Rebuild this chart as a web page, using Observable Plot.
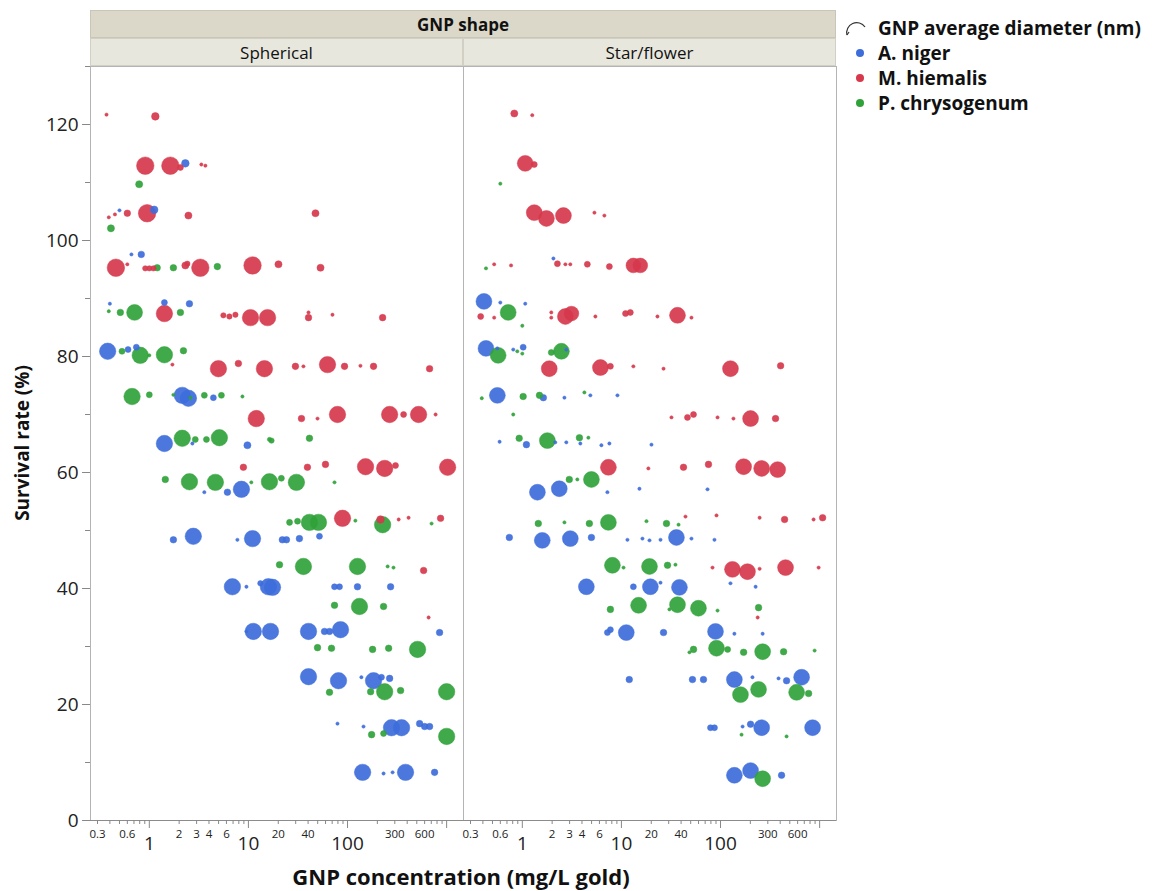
<!DOCTYPE html>
<html>
<head>
<meta charset="utf-8">
<script src="https://cdn.jsdelivr.net/npm/d3@7"></script>
<script src="https://cdn.jsdelivr.net/npm/@observablehq/plot@0.6"></script>
<style>
  html, body { margin: 0; padding: 0; background: #fff; }
  body { width: 1157px; height: 891px; position: relative; overflow: hidden; font-family: "Open Sans", "Noto Sans", sans-serif; color: #111; }
  #chart { position: absolute; left: 0; top: 0; }
  .band { position: absolute; box-sizing: border-box; display: flex; align-items: center; justify-content: center; }
  .b1 { background: #dbd8ca; border: 1px solid #c9c6b8; font-weight: bold; font-size: 17px; }
  .b2 { background: #e8e7dd; border: 1px solid #d2d0c4; font-size: 17px; }
  .ytitle { position: absolute; left: 22px; top: 443px; transform: translate(-50%, -50%) rotate(-90deg); font-size: 19px; font-weight: bold; white-space: nowrap; }
  .xtitle { position: absolute; left: 461px; top: 876px; transform: translate(-50%, -50%); font-size: 22px; font-weight: bold; white-space: nowrap; }
  .legend { position: absolute; left: 843px; top: 16px; font-size: 19px; font-weight: bold; }
  .legend .row { display: flex; align-items: center; height: 24.8px; }
  .legend .dot { width: 8px; height: 8px; border-radius: 50%; margin: 0 14px 0 13px; }
</style>
</head>
<body>
<div id="chart"></div>
<div class="band b1" style="left:90px;top:10px;width:746px;height:28px;">GNP shape</div>
<div class="band b2" style="left:90px;top:38px;width:373px;height:28px;">Spherical</div>
<div class="band b2" style="left:463px;top:38px;width:373px;height:28px;">Star/flower</div>
<div class="ytitle">Survival rate (%)</div>
<div class="xtitle">GNP concentration (mg/L gold)</div>
<div class="legend" id="legend"></div>
<script>
// ---- categories ----
const shapes = ["Spherical", "Star/flower"];
const species = ["A. niger", "M. hiemalis", "P. chrysogenum"];
const speciesColors = ["#3d6ddb", "#d6384c", "#30a23a"];
const sizeTitle = "GNP average diameter (nm)";

// ---- tick values ----
const yTicksLabeled = [0, 20, 40, 60, 80, 100, 120];
const yTicksMinor = [10, 30, 50, 70, 90, 110, 130];
const xTicksMinor = [0.3,0.4,0.5,0.6,0.7,0.8,0.9,2,3,4,5,6,7,8,9,20,30,40,50,60,70,80,90,200,300,400,500,600,700,800,900];
const xTicksDecade = [1, 10, 100, 1000];
const xLabelsSmall = [0.3, 0.6, 2, 3, 4, 6, 20, 40, 300, 600];
const xLabelsBig = [1, 10, 100];

// ---- data: [GNP concentration (mg/L), survival rate (%), GNP diameter (nm)] ----
const sphericalMhiemalis = [
  [0.37,121.7,3],[1.15,121.4,16],[0.91,112.9,85],[1.63,112.9,85],[2.06,112.6,10],[3.35,113.1,3],[3.68,112.9,3],
  [0.39,104.0,3],[0.45,104.5,3],[0.60,104.7,12],[0.95,104.7,85],[2.48,104.3,14],[47.5,104.7,14],
  [0.46,95.3,85],[0.60,95.9,3],[0.91,95.2,8],[1.0,95.2,8],[1.10,95.2,8],[2.31,95.7,14],[2.42,96.0,8],[3.27,95.3,85],[11.0,95.7,85],[20.1,95.9,14],[53.4,95.3,14],
  [1.42,87.4,75],[1.71,78.6,3],[5.59,87.1,8],[6.43,86.9,8],[7.39,87.2,8],[10.5,86.7,75],[15.6,86.7,75],[40.4,86.7,12],[40.4,87.6,3],[70.5,87.2,3],[226,86.7,12],
  [4.98,77.9,75],[7.92,78.8,12],[14.5,77.9,75],[29.8,78.3,12],[35.9,78.3,3],[62.8,78.6,75],[93.3,78.3,12],[135,78.4,3],[183,78.3,12],[673,77.9,12],
  [12.0,69.3,75],[34.3,69.3,12],[49.8,69.3,3],[79.2,70.0,75],[266,70.0,75],[368,70.0,10],[521,70.0,75],[774,70.0,3],
  [8.90,60.9,12],[39.4,60.9,12],[59.9,61.4,12],[152,61.0,75],[237,60.7,75],[305,61.2,10],[1023,60.9,75],
  [89.0,52.1,75],[215,51.9,16],[328,51.9,3],[413,52.2,3],[869,52.1,12],
  [586,43.1,12],[658,35.0,3]
];
const sphericalAniger = [
  [2.31,113.3,16],[0.50,105.2,3],[1.12,105.3,16],[0.66,97.6,3],[0.83,97.6,12],
  [0.40,89.1,3],[1.42,89.3,10],[2.54,89.1,12],
  [0.38,80.9,75],[0.61,81.2,10],[0.74,81.6,10],
  [2.15,73.3,75],[2.48,72.8,75],[4.43,72.9,10],
  [1.42,65.0,75],[2.72,65.0,3],[9.77,64.7,14],
  [3.59,56.6,3],[6.14,56.6,12],[8.50,57.1,75],
  [1.75,48.4,12],[2.78,49.0,75],[7.74,48.4,3],[11.0,48.6,75],[22.0,48.4,12],[24.2,48.4,12],[32.7,48.6,12],[52.1,49.0,10],
  [6.89,40.3,75],[9.55,40.3,3],[13.2,40.9,8],[15.9,40.3,75],[17.5,40.2,75],[73.9,40.3,10],[83.0,40.3,10],[126,40.3,12],[272,40.3,12],
  [9.55,32.6,3],[11.2,32.6,75],[16.7,32.6,75],[40.4,32.6,75],[58.6,32.6,12],[65.8,32.6,12],[85.0,32.9,75],[849,32.4,12],
  [40.4,24.8,75],[81.1,24.1,75],[138,24.7,3],[183,24.1,75],[220,24.7,10],[266,24.5,12],
  [79.2,16.7,3],[145,16.2,3],[278,16.0,75],[351,16.0,75],[534,16.7,12],[600,16.2,12],[673,16.2,12],
  [142,8.3,75],[231,8.1,3],[285,8.3,3],[385,8.3,75],[756,8.3,12]
];
const sphericalPchrysogenum = [
  [0.79,109.7,14],[0.41,102.1,14],[1.20,95.3,12],[1.75,95.3,12],[4.86,95.5,12],
  [0.39,87.8,3],[0.51,87.6,12],[0.71,87.6,70],[2.06,87.6,12],
  [0.53,80.9,10],[0.81,80.2,75],[1.0,80.2,3],[1.42,80.3,75],[2.21,81.0,12],
  [0.67,73.1,75],[1.0,73.4,10],[1.75,73.4,3],[2.60,72.9,3],[3.59,73.3,10],[5.34,73.3,10],[8.70,73.1,3],
  [2.15,65.9,75],[2.91,65.7,10],[3.77,65.7,10],[5.09,66.0,75],[16.3,65.7,5],[17.1,65.5,8],[41.3,65.9,12],
  [1.45,58.8,12],[2.54,58.4,75],[4.64,58.3,75],[10.7,58.3,3],[16.3,58.4,75],[21.5,59.0,10],[30.5,58.3,75],[73.9,58.3,3],
  [26.0,51.4,10],[31.3,51.6,10],[41.3,51.4,75],[50.9,51.4,75],[120,51.7,3],[226,51.0,75],[705,51.2,3],
  [20.6,44.1,12],[35.9,43.8,75],[126,43.8,75],[254,43.8,3],[291,43.6,3],
  [73.9,37.1,12],[132,36.9,75],[231,36.9,12],
  [49.8,29.8,12],[68.9,29.7,12],[179,29.5,12],[260,29.7,12],[509,29.5,75],
  [65.8,22.1,12],[171,22.2,12],[237,22.2,75],[343,22.4,12],[1000,22.2,75],
  [175,14.8,12],[231,15.0,10],[1000,14.5,75]
];
const starMhiemalis = [
  [0.83,121.9,14],[1.26,121.6,3],[1.07,113.3,70],[1.32,113.1,10],
  [1.32,104.8,70],[1.75,103.8,70],[2.60,104.3,70],[5.34,104.8,3],[6.73,104.3,3],
  [0.52,95.9,3],[0.77,95.7,3],[2.26,96.0,10],[2.72,95.9,3],[3.05,95.9,3],[4.53,95.9,10],[7.56,95.5,10],[13.2,95.7,60],[15.5,95.7,60],
  [0.38,86.9,10],[0.52,86.7,3],[1.96,87.6,3],[1.96,86.7,3],[2.72,86.9,70],[3.13,87.4,60],[5.46,86.9,3],[11.0,87.4,10],[12.3,87.6,10],[23.1,86.9,3],[36.8,87.1,70],[50.9,86.7,3],
  [1.87,77.9,70],[6.14,78.1,70],[7.74,78.3,10],[13.2,78.3,3],[26.6,77.9,3],[126,77.9,70],[404,78.4,12],
  [32.0,69.5,3],[46.4,69.5,10],[53.4,70.0,10],[93.3,69.5,3],[135,69.3,3],[201,69.3,70],[359,69.3,12],
  [7.39,60.9,70],[18.7,60.7,3],[42.3,60.9,12],[75.6,61.4,12],[171,61.0,70],[260,60.7,70],[377,60.5,70],
  [44.3,52.4,3],[91.1,52.6,3],[248,52.2,3],[443,51.9,12],[869,51.9,3],[1072,52.2,12],
  [83.0,43.6,3],[132,43.3,70],[187,42.9,70],[248,43.4,3],[453,43.6,70],[977,43.6,3],
  [237,35.0,3]
];
const starAniger = [
  [2.06,96.9,3],[0.41,89.5,70],[0.60,89.3,3],[1.07,89.1,3],
  [0.43,81.4,70],[0.56,81.4,3],[0.81,81.2,3],[1.02,81.6,10],[2.78,81.2,3],
  [0.56,73.3,70],[1.63,72.9,12],[2.66,72.9,3],[4.86,73.3,3],[9.12,73.3,3],
  [0.59,65.3,3],[1.10,64.8,12],[2.15,65.2,3],[2.78,65.2,3],[3.85,65.0,3],[6.28,64.7,3],[7.56,65.0,3],[20.1,64.8,3],
  [1.42,56.6,70],[2.36,57.2,70],[7.22,56.6,3],[15.2,57.2,3],[73.9,57.1,3],
  [0.74,48.8,12],[1.59,48.3,70],[3.05,48.6,70],[4.98,48.8,12],[11.5,48.4,3],[16.3,48.6,3],[19.2,48.3,3],[24.8,48.4,3],[35.9,48.8,70],[50.9,48.6,3],[86.9,48.4,3],
  [4.43,40.3,70],[13.2,40.3,10],[19.6,40.3,70],[24.8,41.0,3],[38.5,40.2,70],[126,40.9,3],[226,40.3,3],
  [7.22,32.4,10],[7.74,32.9,10],[11.2,32.4,70],[26.6,32.4,12],[89.0,32.6,70],[138,32.2,3],[266,32.2,3],
  [12.0,24.3,12],[52.1,24.3,12],[67.3,24.3,12],[138,24.3,70],[210,24.7,3],[385,24.5,3],[464,24.1,12],[658,24.7,70],
  [79.2,16.0,10],[86.9,16.0,10],[167,16.2,3],[201,16.6,12],[260,16.0,70],[849,16.0,70],
  [138,7.8,70],[201,8.6,70],[413,7.8,12]
];
const starPchrysogenum = [
  [0.60,109.8,3],[0.43,95.2,3],[0.72,87.6,70],[1.0,85.3,3],
  [0.57,80.2,70],[0.89,80.9,3],[1.0,80.5,3],[1.96,80.7,10],[2.48,80.9,70],
  [0.39,72.8,3],[1.02,73.1,12],[1.49,73.3,12],[4.23,73.8,3],[0.81,70.0,3],
  [0.93,65.9,12],[1.79,65.5,70],[3.77,66.0,12],[4.64,66.0,3],
  [2.98,58.8,12],[3.59,58.8,3],[4.98,58.8,70],
  [1.45,51.2,12],[2.66,51.4,3],[4.75,51.2,12],[7.39,51.4,70],[17.9,51.6,3],[28.5,51.2,12],[37.7,51.0,3],
  [8.11,44.0,70],[10.5,43.6,3],[19.2,43.8,70],[29.2,44.0,12],[35.1,44.1,3],
  [7.74,36.4,12],[14.9,37.1,70],[30.5,36.4,3],[36.8,37.2,70],[59.9,36.6,70],[93.3,36.2,3],[242,36.7,12],
  [48.6,29.0,3],[53.4,29.5,12],[91.1,29.7,70],[118,29.5,10],[171,29.0,12],[266,29.1,70],[433,29.1,12],[890,29.3,3],
  [159,21.7,70],[242,22.6,70],[586,22.1,70],[774,21.9,12],
  [163,14.8,3],[464,14.5,3],[266,7.2,70]
];

// ---- assemble a table ----
const groups = [
  ["Spherical", "A. niger", sphericalAniger],
  ["Spherical", "M. hiemalis", sphericalMhiemalis],
  ["Spherical", "P. chrysogenum", sphericalPchrysogenum],
  ["Star/flower", "A. niger", starAniger],
  ["Star/flower", "M. hiemalis", starMhiemalis],
  ["Star/flower", "P. chrysogenum", starPchrysogenum]
];
const rows = [];
for (const [shape, sp, arr] of groups) {
  for (const [c, s, d] of arr) rows.push({shape, species: sp, conc: c, survival: s, diameter: d});
}
// draw large bubbles first so small ones remain visible
rows.sort((a, b) => b.diameter - a.diameter);

const fmt = d => String(d);

const chart = Plot.plot({
  width: 1157,
  height: 891,
  marginTop: 66,
  marginBottom: 71,
  marginLeft: 90,
  marginRight: 321,
  style: {fontFamily: "'Open Sans', 'Noto Sans', sans-serif", color: "#222", background: "transparent", overflow: "visible"},
  fx: {domain: shapes, padding: 0, axis: null},
  x: {type: "log", domain: [0.255, 1480]},
  y: {domain: [0, 130]},
  r: {type: "sqrt", domain: [0, 80], range: [0, 8.5]},
  color: {domain: species, range: speciesColors},
  marks: [
    Plot.frame({stroke: "#b4b4b4"}),
    Plot.ruleY([0], {stroke: "#8c8c8c"}),
    Plot.axisY({ticks: yTicksLabeled, tickSize: 8, tickPadding: 4, fontSize: 19, tickFormat: fmt, label: null, stroke: "#888", color: "#222"}),
    Plot.axisY({ticks: yTicksMinor, tickSize: 5, tickFormat: () => "", label: null, stroke: "#888"}),
    Plot.axisX({ticks: xTicksMinor, tickSize: 4, tickFormat: () => "", label: null, stroke: "#888"}),
    Plot.axisX({ticks: xTicksDecade, tickSize: 8, tickFormat: () => "", label: null, stroke: "#888"}),
    Plot.text(xLabelsSmall, {x: d => d, text: fmt, frameAnchor: "bottom", lineAnchor: "top", dy: 9, fontSize: 11.5, fill: "#222"}),
    Plot.text(xLabelsBig, {x: d => d, text: fmt, frameAnchor: "bottom", lineAnchor: "top", dy: 16, fontSize: 19, fill: "#222"}),
    Plot.dot(rows, {
      fx: "shape", x: "conc", y: "survival", r: "diameter",
      fill: "species", stroke: "species", fillOpacity: 0.92, strokeOpacity: 0.6, strokeWidth: 0.8
    })
  ]
});
document.getElementById("chart").appendChild(chart);

// ---- legend ----
const legend = document.getElementById("legend");
legend.innerHTML =
  `<div class="row"><svg width="34" height="20" style="margin-right:1px"><path d="M4 17 A10 10 0 0 1 22 9" fill="none" stroke="#333" stroke-width="1.2"/><path d="M4 17 L6 14" stroke="#333" stroke-width="1.2"/></svg><span>${sizeTitle}</span></div>` +
  species.map((s, i) => `<div class="row"><span class="dot" style="background:${speciesColors[i]}"></span><span>${s}</span></div>`).join("");
</script>
</body>
</html>
